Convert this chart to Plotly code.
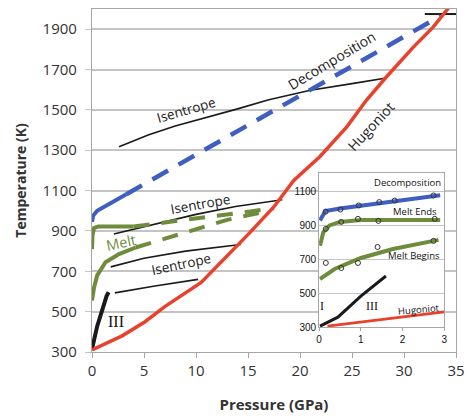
import plotly.graph_objects as go

# ---------------- main chart data ----------------
hug_P = [0, 1, 2.9, 5.1, 7, 10.5, 13, 15.2, 17.5, 19.4, 21.9, 24.5, 26.4, 28.3, 30.9, 32.8, 34.2, 34.6]
hug_T = [310, 335, 380, 450, 525, 645, 775, 893, 1020, 1150, 1268, 1416, 1549, 1663, 1811, 1910, 2000, 2025]

dec_solid_P = [0, 0.1, 0.5, 1.5, 2.5, 3.3]
dec_solid_T = [945, 975, 1000, 1030, 1060, 1082]
dec_dash_P = [3.3, 33.5]
dec_dash_T = [1082, 1965]

melt_up_solid_P = [0, 0.05, 0.2, 0.6, 2, 4]
melt_up_solid_T = [810, 880, 915, 922, 922, 922]
melt_up_dash_P = [4, 10, 17.5]
melt_up_dash_T = [922, 962, 1012]

melt_lo_solid_P = [0, 0.2, 0.5, 1.3, 2.6, 4.2]
melt_lo_solid_T = [555, 620, 680, 745, 785, 818]
melt_lo_dash_P = [4.2, 9, 13, 17]
melt_lo_dash_T = [818, 895, 955, 1000]

isen1_P = [2.6, 5.4, 8, 11, 14, 17, 21, 25, 28.3]
isen1_T = [1317, 1375, 1420, 1462, 1505, 1550, 1597, 1630, 1658]
isen2_P = [2.1, 5.9, 10, 13.8, 18.3]
isen2_T = [885, 932, 982, 1021, 1055]
isen3_P = [1.8, 5, 9, 14.3]
isen3_T = [722, 765, 800, 833]
isen4_P = [2.2, 5.9, 10.2]
isen4_T = [593, 626, 660]

phase3_P = [0, 0.5, 1.4, 1.6]
phase3_T = [315, 428, 577, 596]

topbar_P = [32, 35]
topbar_T = [1975, 1975]

x_ticks = [0, 5, 10, 15, 20, 25, 30, 35]
y_ticks = [300, 500, 700, 900, 1100, 1300, 1500, 1700, 1900]

# ---------------- inset data ----------------
in_dec_P = [0.02, 0.15, 0.5, 1, 1.5, 2, 2.5, 2.9]
in_dec_T = [930, 985, 1000, 1016, 1032, 1045, 1062, 1078]
in_dec_mP = [0.155, 0.51, 0.95, 1.44, 1.81, 2.74]
in_dec_mT = [982, 994, 1018, 1038, 1047, 1077]

in_ends_P = [0.02, 0.1, 0.25, 0.5, 1, 2, 2.9]
in_ends_T = [780, 860, 900, 921, 932, 933, 933]
in_ends_mP = [0.16, 0.53, 0.93, 1.42, 2.77]
in_ends_mT = [880, 921, 939, 927, 939]

in_beg_P = [0.02, 0.37, 1, 1.77, 2.86]
in_beg_T = [584, 643, 708, 761, 815]
in_beg_mP = [0.16, 0.53, 0.93, 1.4, 2.74]
in_beg_mT = [679, 649, 679, 773, 809]

in_blk_P = [0.02, 0.45, 1, 1.6]
in_blk_T = [306, 359, 483, 602]

in_hug_P = [0.2, 3.0]
in_hug_T = [306, 390]

in_x_ticks = [0, 1, 2, 3]
in_y_ticks = [300, 500, 700, 900, 1100]

RED = "#e8412c"
BLUE = "#3e5fc0"
GREEN = "#6e8c3c"
BLK = "#1a1a1a"

fig = go.Figure()


def line(x, y, color, width, dash=None, xa="x", ya="y"):
    fig.add_trace(go.Scatter(x=x, y=y, mode="lines", xaxis=xa, yaxis=ya,
                             line=dict(color=color, width=width, dash=dash),
                             showlegend=False, hoverinfo="skip"))


# main traces
line(isen1_P, isen1_T, BLK, 1.6)
line(isen2_P, isen2_T, BLK, 1.6)
line(isen3_P, isen3_T, BLK, 1.6)
line(isen4_P, isen4_T, BLK, 1.6)
line(topbar_P, topbar_T, BLK, 2)
line(dec_solid_P, dec_solid_T, BLUE, 4)
line(dec_dash_P, dec_dash_T, BLUE, 4.5, "18px,12px")
line(melt_up_solid_P, melt_up_solid_T, GREEN, 4)
line(melt_up_dash_P, melt_up_dash_T, GREEN, 4, "16px,12px")
line(melt_lo_solid_P, melt_lo_solid_T, GREEN, 4)
line(melt_lo_dash_P, melt_lo_dash_T, GREEN, 4, "16px,12px")
line(phase3_P, phase3_T, BLK, 4)
line(hug_P, hug_T, RED, 3.5)

# inset traces
line(in_dec_P, in_dec_T, BLUE, 4, xa="x2", ya="y2")
line(in_ends_P, in_ends_T, GREEN, 4, xa="x2", ya="y2")
line(in_beg_P, in_beg_T, GREEN, 4, xa="x2", ya="y2")
line(in_blk_P, in_blk_T, BLK, 3, xa="x2", ya="y2")
line(in_hug_P, in_hug_T, RED, 3, xa="x2", ya="y2")
for mx, my in [(in_dec_mP, in_dec_mT), (in_ends_mP, in_ends_mT), (in_beg_mP, in_beg_mT)]:
    fig.add_trace(go.Scatter(x=mx, y=my, mode="markers", xaxis="x2", yaxis="y2",
                             marker=dict(symbol="circle-open", size=5,
                                         color="#333333", line=dict(width=1)),
                             showlegend=False, hoverinfo="skip"))

GRID = "#c4c4c4"
TXT = "#333333"

fig.update_layout(
    width=473, height=419,
    margin=dict(l=92, r=9, t=8, b=66),
    paper_bgcolor="white", plot_bgcolor="white",
    font=dict(family="Open Sans, Liberation Sans, sans-serif", color=TXT),
    xaxis=dict(range=[0, 35], tickvals=x_ticks, showgrid=False,
               showline=True, linecolor="#a6a6a6", linewidth=1.2, mirror=True,
               ticks="outside", ticklen=5, tickcolor="#a6a6a6",
               tickfont=dict(size=15, color=TXT), zeroline=False,
               title=dict(text="<b>Pressure (GPa)</b>", font=dict(size=15, color=TXT), standoff=20)),
    yaxis=dict(range=[300, 2000], tickvals=y_ticks, showgrid=True, gridcolor=GRID, gridwidth=1.5,
               showline=True, linecolor="#a6a6a6", linewidth=1.2, mirror=True,
               ticks="outside", ticklen=6, tickcolor=GRID, ticklabelstandoff=5,
               tickfont=dict(size=15, color=TXT), zeroline=False,
               title=dict(text="<b>Temperature (K)</b>", font=dict(size=14, color=TXT), standoff=12)),
    xaxis2=dict(domain=[0.624, 0.968], anchor="y2", range=[0, 3], tickvals=in_x_ticks,
                showgrid=False, showline=True, linecolor="#a6a6a6", linewidth=1, mirror=True,
                ticks="outside", ticklen=3, tickcolor="#a6a6a6", zeroline=False,
                tickfont=dict(size=10, color="#111111", family="Liberation Sans")),
    yaxis2=dict(domain=[0.0725, 0.522], anchor="x2", range=[300, 1210], tickvals=in_y_ticks,
                showgrid=True, gridcolor=GRID, gridwidth=1.2, showline=True,
                linecolor="#a6a6a6", linewidth=1, mirror=True, zeroline=False,
                ticks="", ticklabelstandoff=0,
                tickfont=dict(size=10, color="#111111", family="Liberation Sans")),
    shapes=[dict(type="rect", xref="x2", yref="y2", x0=0, x1=3, y0=300, y1=1210,
                 fillcolor="white", line=dict(width=0), layer="below")],
)

ann = []


def label(text, x, y, angle=0, size=13, color="#222222", xref="x", yref="y", family=None):
    f = dict(size=size, color=color)
    if family:
        f["family"] = family
    ann.append(dict(text=text, x=x, y=y, xref=xref, yref=yref, showarrow=False,
                    textangle=angle, font=f))


label("Isentrope", 9.0, 1500, -16, 13.5)
label("Decomposition", 23.0, 1747, -31, 14)
label("Hugoniot", 26.8, 1416, -47, 14)
label("Isentrope", 10.4, 1036, -10, 13.5)
label("Melt", 2.8, 843, -12, 14.5, GREEN)
label("Isentrope", 8.6, 735, -12, 13.5)
label("III", 2.3, 453, 0, 16, "#111111", family="Liberation Serif")

label("Decomposition", 2.12, 1152, 0, 9.5, "#111111", "x2", "y2")
label("Melt Ends", 2.3, 980, 0, 9.5, "#111111", "x2", "y2")
label("Melt Begins", 2.28, 720, 0, 9.5, "#111111", "x2", "y2")
label("Hugoniot", 2.4, 402, -5, 9.5, "#111111", "x2", "y2")
label("I", 0.08, 424, 0, 12, "#111111", "x2", "y2", "Liberation Serif")
label("III", 1.26, 424, 0, 12, "#111111", "x2", "y2", "Liberation Serif")

fig.update_layout(annotations=ann)
fig.write_html("out.html")
